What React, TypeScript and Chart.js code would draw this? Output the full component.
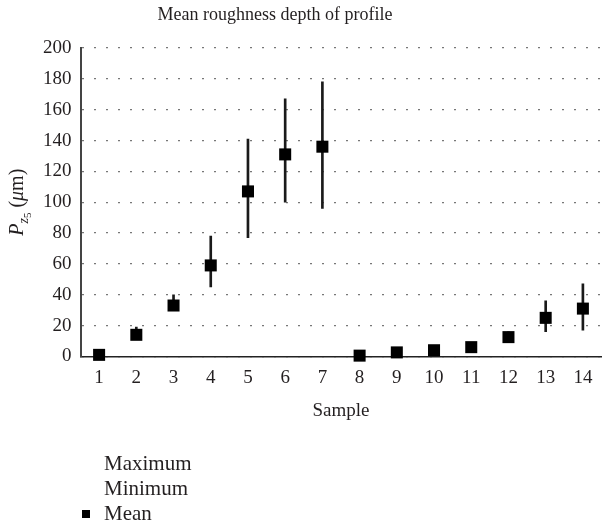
import React, { useEffect, useRef } from 'react';
import { Chart, registerables } from 'chart.js';

Chart.register(...registerables);

const categories = ['1', '2', '3', '4', '5', '6', '7', '8', '9', '10', '11', '12', '13', '14'];
const meanValues = [1, 14, 33, 59, 107, 131, 136, 0.5, 2.6, 4, 6, 12.5, 25, 31];
const minValues = [0, 12, 30, 45, 77, 100, 96, 0, 2, 3, 5, 11, 16, 17];
const maxValues = [1, 19, 40, 78, 141, 167, 178, 1, 4, 5, 8, 16, 36, 47];
const yMin = 0;
const yMax = 200;
const yStep = 20;
const chartTitle = 'Mean roughness depth of profile';
const xTitle = 'Sample';
const legendLabels = ['Maximum', 'Minimum', 'Mean'];

const FONT = "'Liberation Serif', 'DejaVu Serif', serif";
const TEXT = '#231f20';

const richYTitle = {
  id: 'richYTitle',
  afterDraw(chart: any) {
    const { ctx, chartArea } = chart;
    const cy = (chartArea.top + chartArea.bottom) / 2;
    const baseX = 23;
    const parts = [
      { t: 'P', f: `italic 20px ${FONT}`, dy: 0 },
      { t: 'z', f: `italic 14px ${FONT}`, dy: 5 },
      { t: '5', f: `11px ${FONT}`, dy: 8 },
      { t: ' (', f: `20px ${FONT}`, dy: 0 },
      { t: 'μ', f: `italic 20px ${FONT}`, dy: 0 },
      { t: 'm)', f: `20px ${FONT}`, dy: 0 },
    ];
    ctx.save();
    let total = 0;
    const widths = parts.map((p) => {
      ctx.font = p.f;
      const w = ctx.measureText(p.t).width;
      total += w;
      return w;
    });
    ctx.translate(baseX, cy);
    ctx.rotate(-Math.PI / 2);
    ctx.fillStyle = TEXT;
    ctx.textBaseline = 'alphabetic';
    ctx.textAlign = 'left';
    let x = -total / 2;
    parts.forEach((p, i) => {
      ctx.font = p.f;
      ctx.fillText(p.t, x, p.dy);
      x += widths[i];
    });
    ctx.restore();
  },
};

export default function App() {
  const ref = useRef<HTMLCanvasElement>(null);

  useEffect(() => {
    if (!ref.current) return;
    const chart = new Chart(ref.current, {
      type: 'bar',
      data: {
        labels: categories,
        datasets: [
          {
            type: 'line',
            label: legendLabels[2],
            data: meanValues,
            showLine: false,
            pointStyle: 'rect',
            pointRadius: 8.5,
            pointHoverRadius: 8.5,
            pointBackgroundColor: '#000',
            pointBorderWidth: 0,
            borderColor: '#000',
            clip: false,
            order: 1,
          } as any,
          {
            type: 'bar',
            label: 'Range',
            data: categories.map((_, i) => [minValues[i], maxValues[i]]),
            backgroundColor: '#1a1a1a',
            barThickness: 2,
            order: 2,
          } as any,
        ],
      },
      options: {
        animation: false,
        responsive: false,
        layout: { padding: { top: 48, left: 34, right: 0, bottom: 103 } },
        plugins: {
          legend: { display: false },
          tooltip: { enabled: false },
          title: { display: false },
        },
        scales: {
          x: {
            type: 'category',
            offset: true,
            grid: { display: false },
            border: { display: true, color: '#222', width: 1.5 },
            ticks: { color: TEXT, font: { family: FONT, size: 19 }, padding: 2, maxRotation: 0 },
            title: {
              display: true,
              text: xTitle,
              color: TEXT,
              font: { family: FONT, size: 19 },
              padding: { top: 8, bottom: 4 },
            },
          },
          y: {
            min: yMin,
            max: yMax,
            ticks: { stepSize: yStep, color: TEXT, font: { family: FONT, size: 19 }, padding: 9 },
            grid: { color: '#777', lineWidth: 1.2, drawTicks: false },
            border: { display: true, color: '#444', width: 2, dash: [2, 10] },
          },
        },
      },
      plugins: [richYTitle],
    } as any);
    return () => chart.destroy();
  }, []);

  return (
    <div style={{ position: 'absolute', left: 0, top: 0, width: 610, height: 529, background: '#fff', fontFamily: FONT, color: TEXT }}>
      <canvas ref={ref} width={610} height={529} style={{ position: 'absolute', left: 0, top: 0 }} />
      <div style={{ position: 'absolute', left: 0, top: 3, width: 550, textAlign: 'center', fontSize: 18, lineHeight: '22px' }}>
        {chartTitle}
      </div>
      <div style={{ position: 'absolute', left: 82, top: 451, fontSize: 21, lineHeight: '25px' }}>
        {legendLabels.map((l, i) => (
          <div key={l} style={{ display: 'flex', alignItems: 'center' }}>
            <span
              style={{
                display: 'inline-block',
                width: 8,
                height: 8,
                marginRight: 14,
                background: i === 2 ? '#000' : 'transparent',
              }}
            />
            <span>{l}</span>
          </div>
        ))}
      </div>
    </div>
  );
}
